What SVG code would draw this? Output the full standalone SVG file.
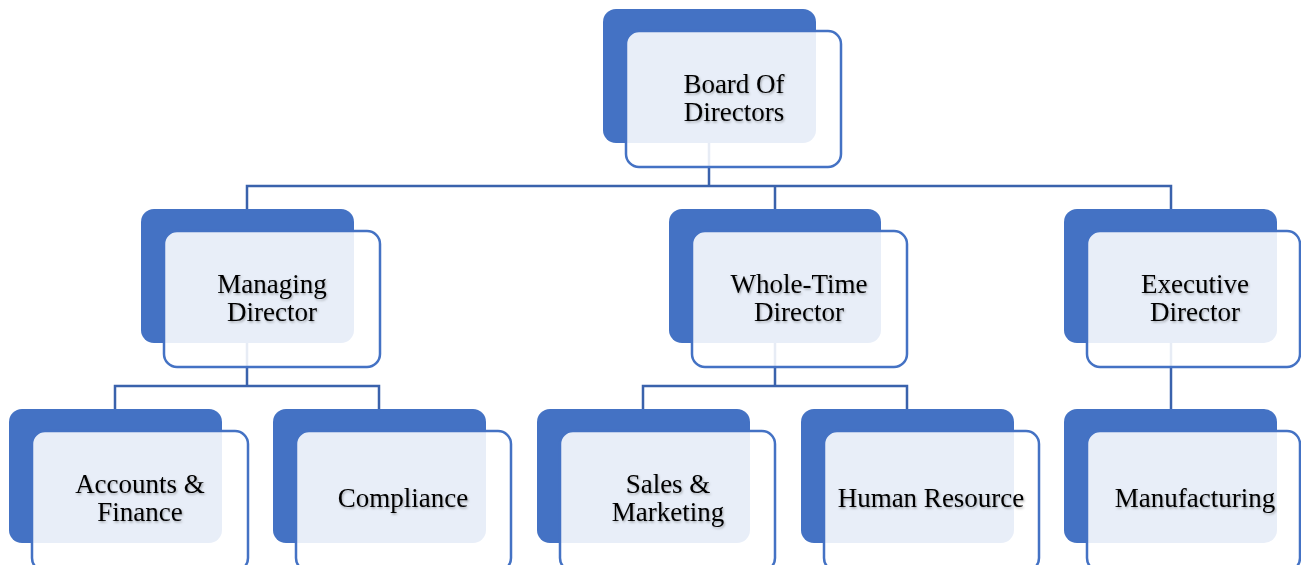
<svg xmlns="http://www.w3.org/2000/svg" width="1301" height="565" viewBox="0 0 1301 565">
<defs>
<filter id="sh" x="-10%" y="-20%" width="120%" height="140%">
<feDropShadow dx="1" dy="1.5" stdDeviation="0.8" flood-color="#000" flood-opacity="0.3"/>
</filter>
</defs>
<style>
.back{fill:#4472C4}
.front{fill:#fff;fill-opacity:0.88;stroke:#4472C4;stroke-width:2.5}
.lbl{font-family:"Liberation Serif","Times New Roman",serif;font-size:27px;fill:#000;text-anchor:middle;filter:url(#sh)}
.conn{fill:none;stroke:#3A62AC;stroke-width:2.5}
</style>
<rect width="1301" height="565" fill="#fff"/>
<g id="connectors">
<path class="conn" d="M709,143 V186 M247,209 V186 H1171 V209 M775,186 V209"/>
<path class="conn" d="M247,343 V386 M115,409 V386 H379 V409"/>
<path class="conn" d="M775,343 V386 M643,409 V386 H907 V409"/>
<path class="conn" d="M1171,343 V409"/>
</g>
<g id="board">
<rect class="back" x="603" y="9" width="213" height="134" rx="13"/>
<rect class="front" x="626" y="31" width="215" height="136" rx="13"/>
<text class="lbl" x="734" y="93">Board Of</text>
<text class="lbl" x="734" y="121">Directors</text>
</g>
<g id="managing">
<rect class="back" x="141" y="209" width="213" height="134" rx="13"/>
<rect class="front" x="164" y="231" width="216" height="136" rx="13"/>
<text class="lbl" x="272" y="293">Managing</text>
<text class="lbl" x="272" y="321">Director</text>
</g>
<g id="wholetime">
<rect class="back" x="669" y="209" width="212" height="134" rx="13"/>
<rect class="front" x="692" y="231" width="215" height="136" rx="13"/>
<text class="lbl" x="799" y="293">Whole-Time</text>
<text class="lbl" x="799" y="321">Director</text>
</g>
<g id="executive">
<rect class="back" x="1064" y="209" width="213" height="134" rx="13"/>
<rect class="front" x="1087" y="231" width="213" height="136" rx="13"/>
<text class="lbl" x="1195" y="293">Executive</text>
<text class="lbl" x="1195" y="321">Director</text>
</g>
<g id="accounts">
<rect class="back" x="9" y="409" width="213" height="134" rx="13"/>
<rect class="front" x="32" y="431" width="216" height="140" rx="13"/>
<text class="lbl" x="140" y="493">Accounts &amp;</text>
<text class="lbl" x="140" y="521">Finance</text>
</g>
<g id="compliance">
<rect class="back" x="273" y="409" width="213" height="134" rx="13"/>
<rect class="front" x="296" y="431" width="215" height="140" rx="13"/>
<text class="lbl" x="403" y="507">Compliance</text>
</g>
<g id="sales">
<rect class="back" x="537" y="409" width="213" height="134" rx="13"/>
<rect class="front" x="560" y="431" width="215" height="140" rx="13"/>
<text class="lbl" x="668" y="493">Sales &amp;</text>
<text class="lbl" x="668" y="521">Marketing</text>
</g>
<g id="hr">
<rect class="back" x="801" y="409" width="213" height="134" rx="13"/>
<rect class="front" x="824" y="431" width="215" height="140" rx="13"/>
<text class="lbl" x="931" y="507">Human Resource</text>
</g>
<g id="manufacturing">
<rect class="back" x="1064" y="409" width="213" height="134" rx="13"/>
<rect class="front" x="1087" y="431" width="213" height="140" rx="13"/>
<text class="lbl" x="1195" y="507">Manufacturing</text>
</g>
</svg>
